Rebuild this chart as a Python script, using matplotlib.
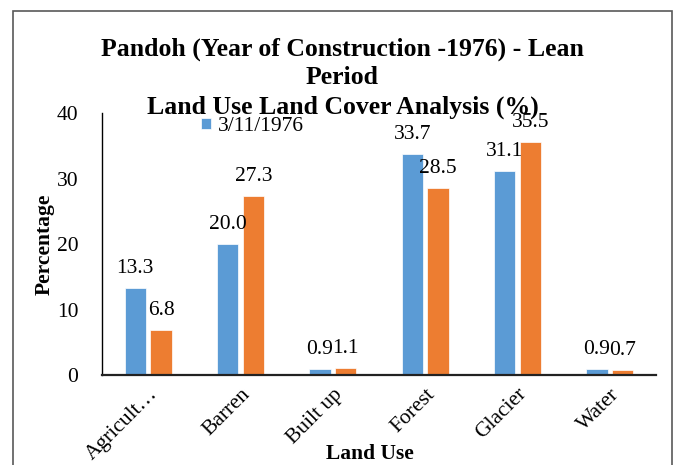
import matplotlib.pyplot as plt
import numpy as np
from matplotlib.patches import Rectangle

# land use categories and percentages for the two dates
categories = ['Agricult…', 'Barren', 'Built up', 'Forest', 'Glacier', 'Water']
series_1976 = [13.3, 20.0, 0.9, 33.7, 31.1, 0.9]
series_later = [6.8, 27.3, 1.1, 28.5, 35.5, 0.7]
label_1976 = '3/11/1976'
label_later = 'Later'

plt.rcParams['font.family'] = ['Liberation Serif', 'DejaVu Serif']

fig = plt.figure(figsize=(6.78, 4.65), dpi=100)
ax = fig.add_axes([0.1504, 0.1935, 0.8172, 0.5635])

x = np.arange(len(categories))
w = 0.23
off = 0.14
b1 = ax.bar(x - off, series_1976, w, color='#5B9BD5', edgecolor='white', linewidth=0.5, label=label_1976)
b2 = ax.bar(x + off, series_later, w, color='#ED7D31', edgecolor='white', linewidth=0.5, label=label_later)

for bars, vals in ((b1, series_1976), (b2, series_later)):
    for bar, v in zip(bars, vals):
        ax.text(bar.get_x() + bar.get_width() / 2, v + 1.55, '%.1f' % v,
                ha='center', va='bottom', fontsize=15.5)

ax.set_xlim(-0.5, len(categories) - 0.5)
ax.set_ylim(0, 40)
ax.set_yticks([0, 10, 20, 30, 40])
ax.tick_params(axis='y', length=0, labelsize=15.5, pad=17)
ax.tick_params(axis='x', length=0, labelsize=15.5, pad=7)
ax.set_xticks(x)
ax.set_xticklabels(categories, rotation=45, ha='right', rotation_mode='anchor')

for s in ('top', 'right'):
    ax.spines[s].set_visible(False)
ax.spines['left'].set_linewidth(1.0)
ax.spines['bottom'].set_linewidth(1.6)
ax.spines['bottom'].set_color('#222222')

ax.set_ylabel('Percentage', fontsize=15.5, fontweight='bold')
ax.yaxis.set_label_coords(-0.086, 0.5)
fig.text(0.545, 0.002, 'Land Use', ha='center', va='bottom', fontsize=15.5, fontweight='bold')

fig.text(0.505, 0.895, 'Pandoh (Year of Construction -1976) - Lean', ha='center', va='center',
         fontsize=18.5, fontweight='bold')
fig.text(0.505, 0.834, 'Period', ha='center', va='center', fontsize=18.5, fontweight='bold')
fig.text(0.505, 0.770, 'Land Use Land Cover Analysis (%)', ha='center', va='center',
         fontsize=18.5, fontweight='bold')

ax.legend(handles=[b1], loc='upper left', bbox_to_anchor=(0.16, 1.025), frameon=False,
          fontsize=15.5, handlelength=0.45, handleheight=0.45, handletextpad=0.3, borderpad=0)

# outer chart frame, bottom edge falls outside the image
fig.patches.append(Rectangle((13 / 678, -0.1), (672 - 13) / 678, 1.1 - 11 / 465,
                             transform=fig.transFigure, fill=False, edgecolor='#595959',
                             linewidth=1.2))

fig.savefig('out.png', dpi=100)
